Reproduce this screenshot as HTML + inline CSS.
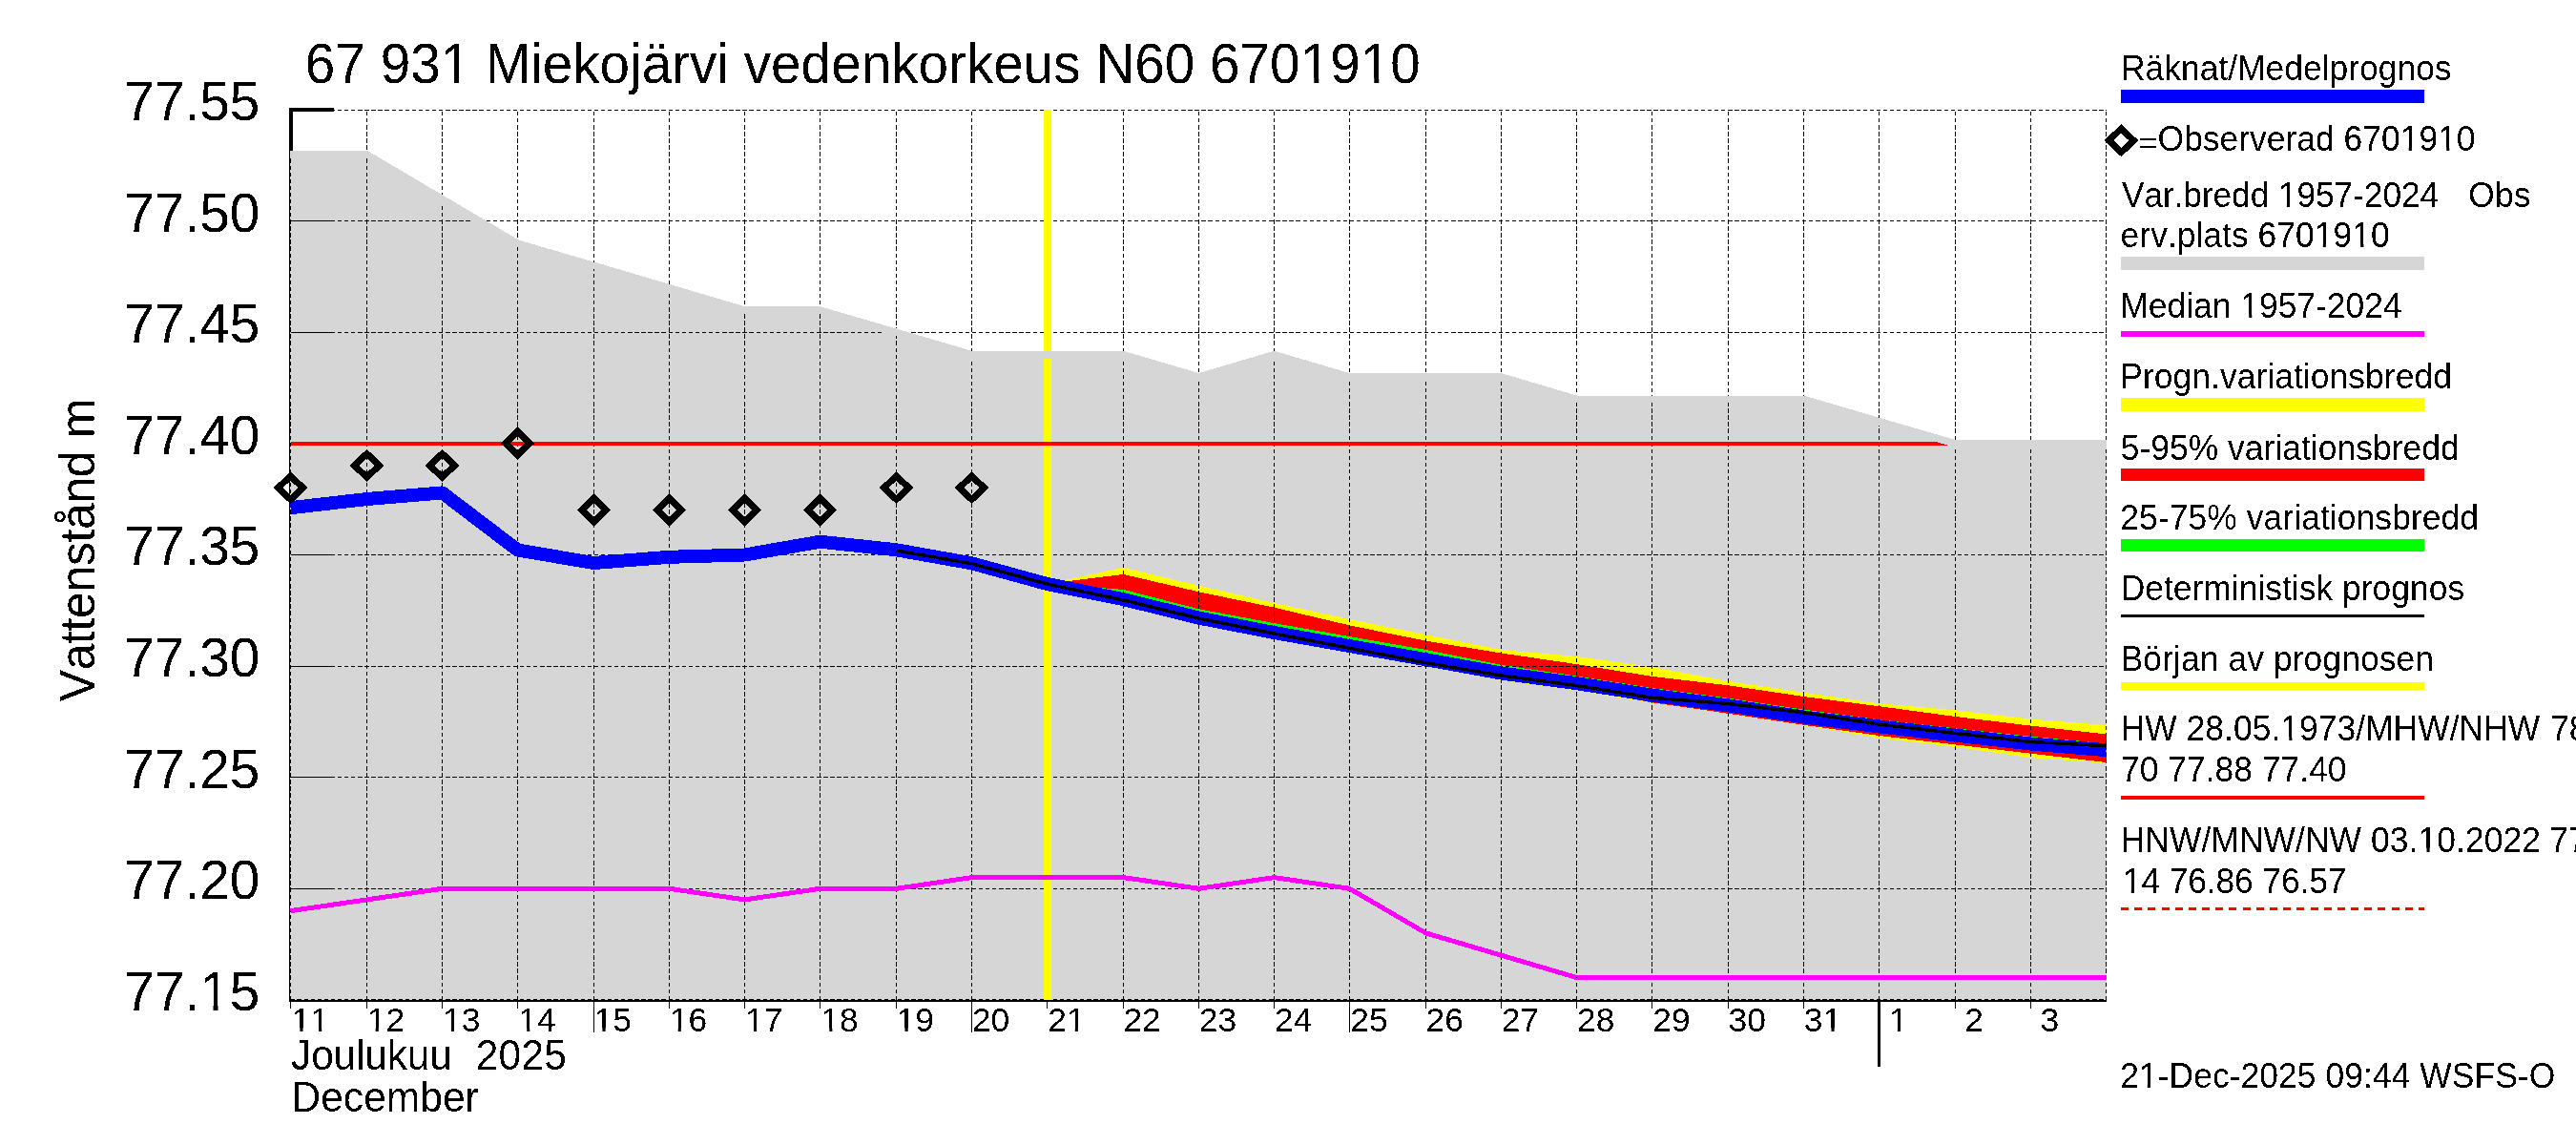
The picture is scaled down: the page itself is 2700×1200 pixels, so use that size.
<!DOCTYPE html>
<html><head><meta charset="utf-8"><title>67 931 Miekojärvi vedenkorkeus</title>
<style>html,body{margin:0;padding:0;background:#fff;overflow:hidden;}svg{display:block;}text{font-family:"Liberation Sans",sans-serif;fill:#000;font-kerning:none;}</style>
</head><body>
<svg width="2700" height="1200" viewBox="0 0 2700 1200" shape-rendering="crispEdges">
<rect x="0" y="0" width="2700" height="1200" fill="#fff"/>
<defs><clipPath id="c1"><path clip-rule="evenodd" shape-rendering="crispEdges" d="M0 0H2700V1200H0Z M464.6 81.4H476.0V88.4H464.6Z M481.0 81.4H492.0V88.4H481.0Z M1365.8 81.4H1377.3V88.4H1365.8Z M1382.3 81.4H1393.3V88.4H1382.3Z M1428.9 81.4H1440.3V88.4H1428.9Z M1445.3 81.4H1456.3V88.4H1445.3Z M212.1 1053.3H223.5V1060.2H212.1Z M228.5 1053.3H239.5V1060.2H228.5Z M306.7 1077.2H314.4V1082.4H306.7Z M317.5 1077.2H324.9V1082.4H317.5Z M326.3 1077.2H334.1V1082.4H326.3Z M337.2 1077.2H344.6V1082.4H337.2Z M385.9 1077.2H393.6V1082.4H385.9Z M396.8 1077.2H404.2V1082.4H396.8Z M465.2 1077.2H472.9V1082.4H465.2Z M476.0 1077.2H483.5V1082.4H476.0Z M544.5 1077.2H552.2V1082.4H544.5Z M555.3 1077.2H562.7V1082.4H555.3Z M623.7 1077.2H631.4V1082.4H623.7Z M634.6 1077.2H642.0V1082.4H634.6Z M703.0 1077.2H710.7V1082.4H703.0Z M713.8 1077.2H721.3V1082.4H713.8Z M782.3 1077.2H790.0V1082.4H782.3Z M793.1 1077.2H800.5V1082.4H793.1Z M861.5 1077.2H869.3V1082.4H861.5Z M872.4 1077.2H879.8V1082.4H872.4Z M940.8 1077.2H948.5V1082.4H940.8Z M951.7 1077.2H959.1V1082.4H951.7Z M1119.0 1077.2H1126.8V1082.4H1119.0Z M1129.9 1077.2H1137.3V1082.4H1129.9Z M1911.7 1077.2H1919.5V1082.4H1911.7Z M1922.6 1077.2H1930.0V1082.4H1922.6Z M1981.2 1077.2H1988.9V1082.4H1981.2Z M1992.0 1077.2H1999.4V1082.4H1992.0Z M2517.0 154.5H2524.7V159.9H2517.0Z M2527.9 154.5H2535.3V159.9H2527.9Z M2556.5 154.5H2564.2V159.9H2556.5Z M2567.3 154.5H2574.7V159.9H2567.3Z M2389.2 213.1H2396.9V218.5H2389.2Z M2400.0 213.1H2407.5V218.5H2400.0Z M2427.1 255.3H2434.8V260.7H2427.1Z M2437.9 255.3H2445.3V260.7H2437.9Z M2466.5 255.3H2474.2V260.7H2466.5Z M2477.4 255.3H2484.8V260.7H2477.4Z M2349.5 328.7H2357.2V334.1H2349.5Z M2360.3 328.7H2367.8V334.1H2360.3Z M2391.6 772.1H2399.3V777.5H2391.6Z M2402.4 772.1H2409.8V777.5H2402.4Z M2535.8 888.7H2543.5V894.1H2535.8Z M2546.6 888.7H2554.0V894.1H2546.6Z M2226.1 932.2H2233.8V937.6H2226.1Z M2237.0 932.2H2244.4V937.6H2237.0Z M2243.1 1135.9H2250.8V1141.3H2243.1Z M2253.9 1135.9H2261.4V1141.3H2253.9Z"/></clipPath><clipPath id="cp"><rect x="304" y="100" width="1904" height="948"/></clipPath>
<filter id="th" filterUnits="userSpaceOnUse" x="0" y="0" width="2700" height="1200" color-interpolation-filters="sRGB"><feComponentTransfer><feFuncA type="discrete" tableValues="0 1"/></feComponentTransfer></filter><clipPath id="cpl"><rect x="305" y="100" width="1903" height="948"/></clipPath></defs>
<g fill="#000">
<rect x="303" y="113" width="47" height="4"/>
<rect x="303" y="113" width="4" height="937"/>
<rect x="303" y="1046" width="1905" height="4"/>
</g>
<g clip-path="url(#cp)">
<polygon points="298.0,162.0 384.5,162.0 463.5,208.6 542.5,255.2 622.5,278.5 701.5,301.8 780.5,325.1 859.5,325.1 939.5,348.4 1018.5,371.7 1097.5,371.7 1177.5,371.7 1256.5,395.0 1335.5,371.7 1414.5,395.0 1494.5,395.0 1573.5,395.0 1652.5,418.4 1731.5,418.4 1811.5,418.4 1890.5,418.4 1969.5,441.7 2049.5,465.0 2128.5,465.0 2214.0,465.0 2214,1060 298,1060" fill="#d6d6d6"/>
</g>
<g clip-path="url(#cp)">
<polygon points="1097.5,611.8 1177.5,594.9 1256.5,613.8 1335.5,632.0 1414.5,649.0 1494.5,665.3 1573.5,681.0 1652.5,688.0 1731.5,699.0 1811.5,714.0 1890.5,725.8 1969.5,737.3 2049.5,744.3 2128.5,753.6 2207.5,760.0 2207.5,799.6 2128.5,794.1 2049.5,782.9 1969.5,773.4 1890.5,760.1 1811.5,747.9 1731.5,736.4 1652.5,723.5 1573.5,713.0 1494.5,696.0 1414.5,681.0 1335.5,667.0 1256.5,651.0 1177.5,631.0 1097.5,611.8" fill="#ffff00"/>
<polygon points="1097.5,611.8 1177.5,601.9 1256.5,620.3 1335.5,636.7 1414.5,655.4 1494.5,671.7 1573.5,684.5 1652.5,696.1 1731.5,708.9 1811.5,718.3 1890.5,730.0 1969.5,740.2 2049.5,751.0 2128.5,760.6 2207.5,769.5 2207.5,799.0 2128.5,789.7 2049.5,780.4 1969.5,771.0 1890.5,759.8 1811.5,747.8 1731.5,736.3 1652.5,722.0 1573.5,709.0 1494.5,694.0 1414.5,680.0 1335.5,666.0 1256.5,650.0 1177.5,630.0 1097.5,611.8" fill="#ff0000"/>
<polygon points="1097.5,611.8 1177.5,617.9 1256.5,638.3 1335.5,653.1 1414.5,667.1 1494.5,681.0 1573.5,696.8 1652.5,708.5 1731.5,721.0 1811.5,731.7 1890.5,743.7 1969.5,754.2 2049.5,763.3 2128.5,771.8 2207.5,779.2 2207.5,788.2 2128.5,781.5 2049.5,772.6 1969.5,763.4 1890.5,753.5 1811.5,741.4 1731.5,730.6 1652.5,718.2 1573.5,707.5 1494.5,693.2 1414.5,679.0 1335.5,665.0 1256.5,649.6 1177.5,630.1 1097.5,614.0" fill="#00ff00"/>
</g>
<g fill="none" stroke="#000" stroke-width="1" stroke-dasharray="4.4 2.674">
<line x1="304.5" y1="115" x2="304.5" y2="1048" stroke-dashoffset="5.12"/>
<line x1="384.5" y1="115" x2="384.5" y2="1048" stroke-dashoffset="5.12"/>
<line x1="463.5" y1="115" x2="463.5" y2="1048" stroke-dashoffset="5.12"/>
<line x1="542.5" y1="115" x2="542.5" y2="1048" stroke-dashoffset="5.12"/>
<line x1="622.5" y1="115" x2="622.5" y2="1048" stroke-dashoffset="5.12"/>
<line x1="701.5" y1="115" x2="701.5" y2="1048" stroke-dashoffset="5.12"/>
<line x1="780.5" y1="115" x2="780.5" y2="1048" stroke-dashoffset="5.12"/>
<line x1="859.5" y1="115" x2="859.5" y2="1048" stroke-dashoffset="5.12"/>
<line x1="939.5" y1="115" x2="939.5" y2="1048" stroke-dashoffset="5.12"/>
<line x1="1018.5" y1="115" x2="1018.5" y2="1048" stroke-dashoffset="5.12"/>
<line x1="1097.5" y1="115" x2="1097.5" y2="1048" stroke-dashoffset="5.12"/>
<line x1="1177.5" y1="115" x2="1177.5" y2="1048" stroke-dashoffset="5.12"/>
<line x1="1256.5" y1="115" x2="1256.5" y2="1048" stroke-dashoffset="5.12"/>
<line x1="1335.5" y1="115" x2="1335.5" y2="1048" stroke-dashoffset="5.12"/>
<line x1="1414.5" y1="115" x2="1414.5" y2="1048" stroke-dashoffset="5.12"/>
<line x1="1494.5" y1="115" x2="1494.5" y2="1048" stroke-dashoffset="5.12"/>
<line x1="1573.5" y1="115" x2="1573.5" y2="1048" stroke-dashoffset="5.12"/>
<line x1="1652.5" y1="115" x2="1652.5" y2="1048" stroke-dashoffset="5.12"/>
<line x1="1731.5" y1="115" x2="1731.5" y2="1048" stroke-dashoffset="5.12"/>
<line x1="1811.5" y1="115" x2="1811.5" y2="1048" stroke-dashoffset="5.12"/>
<line x1="1890.5" y1="115" x2="1890.5" y2="1048" stroke-dashoffset="5.12"/>
<line x1="1969.5" y1="115" x2="1969.5" y2="1048" stroke-dashoffset="5.12"/>
<line x1="2049.5" y1="115" x2="2049.5" y2="1048" stroke-dashoffset="5.12"/>
<line x1="2128.5" y1="115" x2="2128.5" y2="1048" stroke-dashoffset="5.12"/>
<line x1="2207.5" y1="115" x2="2207.5" y2="1048" stroke-dashoffset="5.12"/>
<line x1="305" y1="115.5" x2="2208" y2="115.5" stroke-dashoffset="0.6"/>
<line x1="305" y1="231.5" x2="2208" y2="231.5" stroke-dashoffset="0.6"/>
<line x1="305" y1="348.5" x2="2208" y2="348.5" stroke-dashoffset="0.6"/>
<line x1="305" y1="464.5" x2="2208" y2="464.5" stroke-dashoffset="0.6"/>
<line x1="305" y1="581.5" x2="2208" y2="581.5" stroke-dashoffset="0.6"/>
<line x1="305" y1="698.5" x2="2208" y2="698.5" stroke-dashoffset="0.6"/>
<line x1="305" y1="814.5" x2="2208" y2="814.5" stroke-dashoffset="0.6"/>
<line x1="305" y1="931.5" x2="2208" y2="931.5" stroke-dashoffset="0.6"/>
<line x1="305" y1="1047.5" x2="2208" y2="1047.5" stroke-dashoffset="0.6"/>
</g>
<g fill="#000">
<rect x="305" y="231" width="45" height="1"/>
<rect x="305" y="348" width="45" height="1"/>
<rect x="305" y="464" width="45" height="1"/>
<rect x="305" y="581" width="45" height="1"/>
<rect x="305" y="698" width="45" height="1"/>
<rect x="305" y="814" width="45" height="1"/>
<rect x="305" y="931" width="45" height="1"/>
</g>
<rect x="1094" y="115" width="8" height="933" fill="#ffff00"/>
<rect x="305" y="463" width="1903" height="4" fill="#ff0000"/>
<g clip-path="url(#cp)">
<polyline points="298.0,162.0 384.5,162.0 463.5,208.6 542.5,255.2 622.5,278.5 701.5,301.8 780.5,325.1 859.5,325.1 939.5,348.4 1018.5,371.7 1097.5,371.7 1177.5,371.7 1256.5,395.0 1335.5,371.7 1414.5,395.0 1494.5,395.0 1573.5,395.0 1652.5,418.4 1731.5,418.4 1811.5,418.4 1890.5,418.4 1969.5,441.7 2049.5,465.0 2128.5,465.0 2214.0,465.0" fill="none" stroke="#d6d6d6" stroke-width="7.6" stroke-linejoin="miter"/>
</g>
<rect x="303" y="1048" width="1905" height="2" fill="#000"/>
<rect x="303" y="113" width="1" height="937" fill="#000"/>
<g clip-path="url(#cp)">
<polyline points="304.5,954.6 384.5,942.9 463.5,931.3 542.5,931.3 622.5,931.3 701.5,931.3 780.5,942.9 859.5,931.3 939.5,931.3 1018.5,919.6 1097.5,919.6 1177.5,919.6 1256.5,931.3 1335.5,919.6 1414.5,931.3 1494.5,977.9 1573.5,1001.2 1652.5,1024.5 1731.5,1024.5 1811.5,1024.5 1890.5,1024.5 1969.5,1024.5 2049.5,1024.5 2128.5,1024.5 2207.5,1024.5" fill="none" stroke="#ff00ff" stroke-width="5" stroke-linejoin="bevel" stroke-linecap="butt"/>
<polyline points="304.5,532.2 384.5,523.0 463.5,516.4 542.5,576.5 622.5,590.0 701.5,583.8 780.5,581.5 859.5,567.7 939.5,576.3 1018.5,590.3 1097.5,612.0 1177.5,628.1 1256.5,647.6 1335.5,663.0 1414.5,677.0 1494.5,691.2 1573.5,705.5 1652.5,716.2 1731.5,728.6 1811.5,739.4 1890.5,751.5 1969.5,761.4 2049.5,770.6 2128.5,779.5 2207.5,786.2" fill="none" stroke="#0000ff" stroke-width="14" stroke-linejoin="bevel" stroke-linecap="butt"/>
<polyline points="939.5,577.0 1018.5,590.7 1097.5,612.0 1177.5,629.0 1256.5,648.1 1335.5,664.0 1414.5,679.3 1494.5,694.7 1573.5,708.0 1652.5,718.5 1731.5,731.3 1811.5,737.5 1890.5,746.8 1969.5,759.1 2049.5,768.5 2128.5,777.5 2207.5,781.8" fill="none" stroke="#000" stroke-width="3.4" stroke-linejoin="bevel" stroke-linecap="butt"/>
</g>
<g shape-rendering="crispEdges">
<polygon points="304.5,498.8 317.4,511.2 304.5,523.5 291.6,511.2" fill="none" stroke="#000" stroke-width="7" stroke-linejoin="miter"/>
<polygon points="384.5,475.5 397.4,487.9 384.5,500.2 371.6,487.9" fill="none" stroke="#000" stroke-width="7" stroke-linejoin="miter"/>
<polygon points="463.5,475.5 476.4,487.9 463.5,500.2 450.6,487.9" fill="none" stroke="#000" stroke-width="7" stroke-linejoin="miter"/>
<polygon points="542.5,452.2 555.4,464.6 542.5,476.9 529.6,464.6" fill="none" stroke="#000" stroke-width="7" stroke-linejoin="miter"/>
<polygon points="622.5,522.1 635.4,534.5 622.5,546.8 609.6,534.5" fill="none" stroke="#000" stroke-width="7" stroke-linejoin="miter"/>
<polygon points="701.5,522.1 714.4,534.5 701.5,546.8 688.6,534.5" fill="none" stroke="#000" stroke-width="7" stroke-linejoin="miter"/>
<polygon points="780.5,522.1 793.4,534.5 780.5,546.8 767.6,534.5" fill="none" stroke="#000" stroke-width="7" stroke-linejoin="miter"/>
<polygon points="859.5,522.1 872.4,534.5 859.5,546.8 846.6,534.5" fill="none" stroke="#000" stroke-width="7" stroke-linejoin="miter"/>
<polygon points="939.5,498.8 952.4,511.2 939.5,523.5 926.6,511.2" fill="none" stroke="#000" stroke-width="7" stroke-linejoin="miter"/>
<polygon points="1018.5,498.8 1031.4,511.2 1018.5,523.5 1005.6,511.2" fill="none" stroke="#000" stroke-width="7" stroke-linejoin="miter"/>
<polygon points="2223.4,134.8 2236.3,147.2 2223.4,159.5 2210.5,147.2" fill="none" stroke="#000" stroke-width="7" stroke-linejoin="miter"/>
</g>
<g fill="#000">
<rect x="304" y="1050" width="1" height="7"/>
<rect x="384" y="1050" width="1" height="7"/>
<rect x="463" y="1050" width="1" height="7"/>
<rect x="542" y="1050" width="1" height="7"/>
<rect x="622" y="1050" width="1" height="32"/>
<rect x="701" y="1050" width="1" height="7"/>
<rect x="780" y="1050" width="1" height="7"/>
<rect x="859" y="1050" width="1" height="7"/>
<rect x="939" y="1050" width="1" height="7"/>
<rect x="1018" y="1050" width="1" height="32"/>
<rect x="1097" y="1050" width="1" height="7"/>
<rect x="1177" y="1050" width="1" height="7"/>
<rect x="1256" y="1050" width="1" height="7"/>
<rect x="1335" y="1050" width="1" height="7"/>
<rect x="1414" y="1050" width="1" height="32"/>
<rect x="1494" y="1050" width="1" height="7"/>
<rect x="1573" y="1050" width="1" height="7"/>
<rect x="1652" y="1050" width="1" height="7"/>
<rect x="1731" y="1050" width="1" height="7"/>
<rect x="1811" y="1050" width="1" height="7"/>
<rect x="1890" y="1050" width="1" height="7"/>
<rect x="1968" y="1048" width="3" height="70"/>
<rect x="2049" y="1050" width="1" height="7"/>
<rect x="2128" y="1050" width="1" height="7"/>
</g>
<g filter="url(#th)" clip-path="url(#c1)">
<text transform="translate(319.87,86.90) scale(1,1.045)" font-size="56.7" letter-spacing="-0.004">67 931 Miekojärvi vedenkorkeus N60 6701910</text>
<text transform="translate(130.32,125.90) scale(1,1.025)" font-size="56.7" letter-spacing="0.038">77.55</text>
<text transform="translate(130.32,242.50) scale(1,1.025)" font-size="56.7" letter-spacing="0.003">77.50</text>
<text transform="translate(130.32,359.10) scale(1,1.025)" font-size="56.7" letter-spacing="0.038">77.45</text>
<text transform="translate(130.32,475.70) scale(1,1.025)" font-size="56.7" letter-spacing="0.003">77.40</text>
<text transform="translate(130.32,592.30) scale(1,1.025)" font-size="56.7" letter-spacing="0.038">77.35</text>
<text transform="translate(130.32,708.90) scale(1,1.025)" font-size="56.7" letter-spacing="0.003">77.30</text>
<text transform="translate(130.32,825.50) scale(1,1.025)" font-size="56.7" letter-spacing="0.038">77.25</text>
<text transform="translate(130.32,942.10) scale(1,1.025)" font-size="56.7" letter-spacing="0.003">77.20</text>
<text transform="translate(130.32,1058.70) scale(1,1.025)" font-size="56.7" letter-spacing="0.038">77.15</text>
<text transform="translate(99.1,735.35) rotate(-90) scale(1,1.052)" font-size="50" letter-spacing="-0.390">Vattenstånd m</text>
<text transform="translate(305.46,1080.9) scale(1,1.0)" font-size="35.4">11</text>
<text transform="translate(384.73,1080.9) scale(1,1.0)" font-size="35.4">12</text>
<text transform="translate(464.00,1080.9) scale(1,1.0)" font-size="35.4">13</text>
<text transform="translate(543.27,1080.9) scale(1,1.0)" font-size="35.4">14</text>
<text transform="translate(622.54,1080.9) scale(1,1.0)" font-size="35.4">15</text>
<text transform="translate(701.81,1080.9) scale(1,1.0)" font-size="35.4">16</text>
<text transform="translate(781.08,1080.9) scale(1,1.0)" font-size="35.4">17</text>
<text transform="translate(860.35,1080.9) scale(1,1.0)" font-size="35.4">18</text>
<text transform="translate(939.62,1080.9) scale(1,1.0)" font-size="35.4">19</text>
<text transform="translate(1018.89,1080.9) scale(1,1.0)" font-size="35.4">20</text>
<text transform="translate(1098.16,1080.9) scale(1,1.0)" font-size="35.4">21</text>
<text transform="translate(1177.43,1080.9) scale(1,1.0)" font-size="35.4">22</text>
<text transform="translate(1256.70,1080.9) scale(1,1.0)" font-size="35.4">23</text>
<text transform="translate(1335.97,1080.9) scale(1,1.0)" font-size="35.4">24</text>
<text transform="translate(1415.24,1080.9) scale(1,1.0)" font-size="35.4">25</text>
<text transform="translate(1494.51,1080.9) scale(1,1.0)" font-size="35.4">26</text>
<text transform="translate(1573.78,1080.9) scale(1,1.0)" font-size="35.4">27</text>
<text transform="translate(1653.05,1080.9) scale(1,1.0)" font-size="35.4">28</text>
<text transform="translate(1732.32,1080.9) scale(1,1.0)" font-size="35.4">29</text>
<text transform="translate(1811.59,1080.9) scale(1,1.0)" font-size="35.4">30</text>
<text transform="translate(1890.86,1080.9) scale(1,1.0)" font-size="35.4">31</text>
<text transform="translate(1979.98,1080.9) scale(1,1.0)" font-size="35.4">1</text>
<text transform="translate(2059.25,1080.9) scale(1,1.0)" font-size="35.4">2</text>
<text transform="translate(2138.52,1080.9) scale(1,1.0)" font-size="35.4">3</text>
<text transform="translate(305.06,1120.80) scale(1,1.05)" font-size="42.5" letter-spacing="-0.172">Joulukuu</text>
<text transform="translate(498.68,1120.80) scale(1,1.03)" font-size="42.5" letter-spacing="0.223">2025</text>
<text transform="translate(305.49,1164.70) scale(1,1.05)" font-size="42.5" letter-spacing="0.030">December</text>
<text transform="translate(2222.98,84.00) scale(1,1.05)" font-size="35.4" letter-spacing="0.021">Räknat/Medelprognos</text>
<rect x="2223" y="94" width="318" height="14" fill="#0000ff"/>
<text transform="translate(2261.62,158.40) scale(1,1.05)" font-size="35.4" letter-spacing="0.025">Observerad 6701910</text>
<rect x="2242.5" y="145" width="17.8" height="2" fill="#000"/><rect x="2242.5" y="152.5" width="17.8" height="2" fill="#000"/>
<text transform="translate(2223.92,217.00) scale(1,1.05)" font-size="35.4" letter-spacing="-0.121">Var.bredd 1957-2024</text>
<text transform="translate(2587.22,217.00) scale(1,1.05)" font-size="35.4" letter-spacing="0.181">Obs</text>
<text transform="translate(2222.60,259.20) scale(1,1.05)" font-size="35.4" letter-spacing="0.044">erv.plats 6701910</text>
<rect x="2223" y="269" width="318" height="14" fill="#d6d6d6"/>
<text transform="translate(2222.28,332.60) scale(1,1.05)" font-size="35.4" letter-spacing="0.011">Median 1957-2024</text>
<rect x="2223" y="347" width="318" height="6" fill="#ff00ff"/>
<text transform="translate(2222.28,406.80) scale(1,1.05)" font-size="35.4" letter-spacing="0.067">Progn.variationsbredd</text>
<rect x="2223" y="417" width="318" height="14" fill="#ffff00"/>
<text transform="translate(2222.68,481.50) scale(1,1.05)" font-size="35.4" letter-spacing="0.043">5-95% variationsbredd</text>
<rect x="2223" y="491" width="318" height="13" fill="#ff0000"/>
<text transform="translate(2222.33,555.30) scale(1,1.05)" font-size="35.4" letter-spacing="0.093">25-75% variationsbredd</text>
<rect x="2223" y="565" width="318" height="13" fill="#00ff00"/>
<text transform="translate(2222.68,628.50) scale(1,1.05)" font-size="35.4" letter-spacing="0.026">Deterministisk prognos</text>
<rect x="2223" y="644" width="318" height="3" fill="#000"/>
<text transform="translate(2222.68,702.70) scale(1,1.05)" font-size="35.4" letter-spacing="0.093">Början av prognosen</text>
<rect x="2223" y="715" width="318" height="8" fill="#ffff00"/>
<text transform="translate(2222.68,776.00) scale(1,1.05)" font-size="35.4" letter-spacing="0.050">HW 28.05.1973/MHW/NHW</text>
<text transform="translate(2673.14,776.00) scale(1,1.05)" font-size="35.4" letter-spacing="0.000">78.</text>
<text transform="translate(2222.94,818.70) scale(1,1.05)" font-size="35.4" letter-spacing="0.037">70 77.88 77.40</text>
<rect x="2223" y="834" width="318" height="4" fill="#ff0000"/>
<text transform="translate(2222.68,892.60) scale(1,1.05)" font-size="35.4" letter-spacing="0.084">HNW/MNW/NW 03.10.2022</text>
<text transform="translate(2672.24,892.60) scale(1,1.05)" font-size="35.4" letter-spacing="0.000">77.</text>
<text transform="translate(2224.94,936.10) scale(1,1.05)" font-size="35.4" letter-spacing="-0.129">14 76.86 76.57</text>
<line x1="2223" y1="952.5" x2="2541" y2="952.5" stroke="#ff0000" stroke-width="3" stroke-dasharray="8 6.18"/>
<text transform="translate(2222.13,1139.80) scale(1,1.05)" font-size="35.4" letter-spacing="0.079">21-Dec-2025 09:44 WSFS-O</text>
</g>
</svg></body></html>
